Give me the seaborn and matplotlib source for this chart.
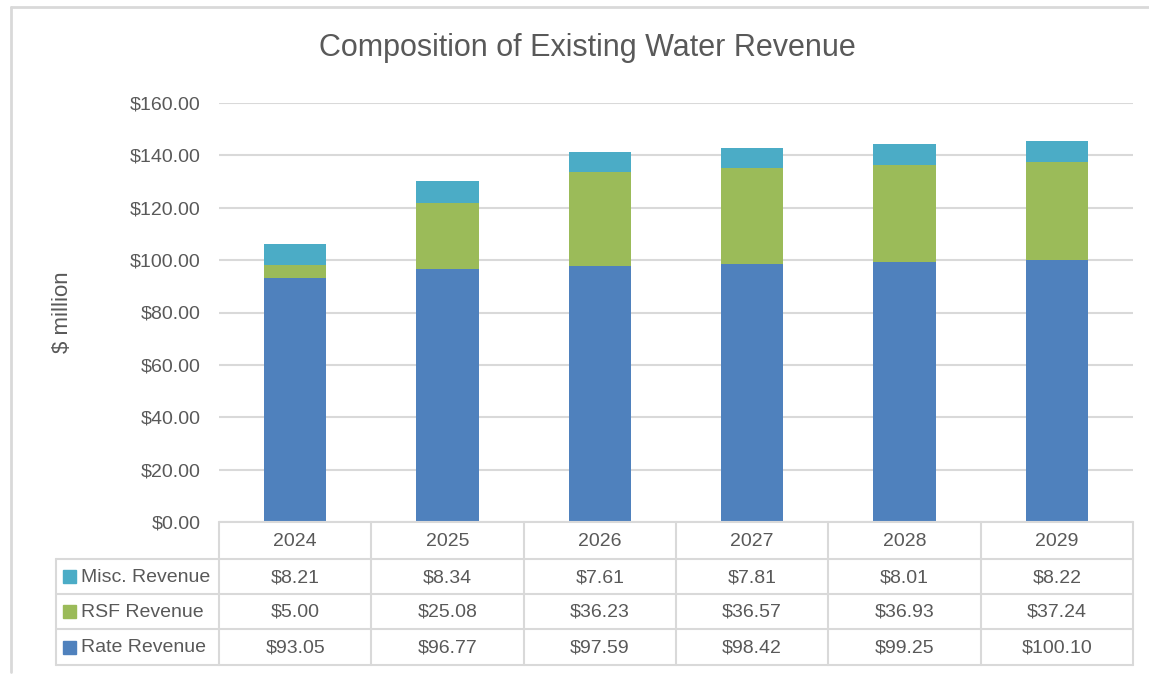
import matplotlib
matplotlib.use("Agg")
import matplotlib.pyplot as plt
import seaborn as sns
import pandas as pd
from matplotlib.patches import Rectangle
from matplotlib.lines import Line2D

# ── Data ──────────────────────────────────────────────
years = ["2024", "2025", "2026", "2027", "2028", "2029"]
rate_revenue = [93.05, 96.77, 97.59, 98.42, 99.25, 100.10]
rsf_revenue = [5.00, 25.08, 36.23, 36.57, 36.93, 37.24]
misc_revenue = [8.21, 8.34, 7.61, 7.81, 8.01, 8.22]

series_names = ["Misc. Revenue", "RSF Revenue", "Rate Revenue"]
series_colors = ["#4BACC6", "#9BBB59", "#4F81BD"]
yticks = [0, 20, 40, 60, 80, 100, 120, 140, 160]

df = pd.DataFrame({"Year": years, "Rate": rate_revenue,
                   "RSF": rsf_revenue, "Misc": misc_revenue})
df["RateRSF"] = df["Rate"] + df["RSF"]
df["Total"] = df["RateRSF"] + df["Misc"]

sns.set_style("white")
plt.rcParams["font.family"] = ["Liberation Sans Narrow", "Liberation Sans", "DejaVu Sans"]
TXT = "#595959"
GRID = "#D9D9D9"

W, H = 1149, 675
fig = plt.figure(figsize=(W / 100, H / 100), dpi=100)

# ── Bars (stacked by overdrawing cumulative totals) ───
ax = fig.add_axes([219 / W, 1 - 522 / H, (1133 - 219) / W, (522 - 103) / H])
for col, color in [("Total", series_colors[0]), ("RateRSF", series_colors[1]),
                   ("Rate", series_colors[2])]:
    sns.barplot(data=df, x="Year", y=col, color=color, width=0.41,
                saturation=1, linewidth=0, ax=ax, zorder=3)
ax.set_ylim(0, 160)
ax.set_xlim(-0.5, len(years) - 0.5)
ax.set_yticks(yticks)
ax.set_yticklabels([f"${v:.2f}" for v in yticks], fontsize=14, color=TXT)
ax.set_xticks([])
ax.set_xlabel("")
ax.set_ylabel("")
ax.tick_params(axis="y", length=0, pad=13)
ax.grid(axis="y", color=GRID, linewidth=1.5, zorder=0)
for s in ax.spines.values():
    s.set_visible(False)

fig.text(62 / W, 1 - 312 / H, "$ million", rotation=90, fontsize=16,
         color=TXT, ha="center", va="center")
fig.text(587 / W, 1 - 48 / H, "Composition of Existing Water Revenue",
         fontsize=22, color=TXT, ha="center", va="center")

# ── Data table ───────────────────────────────────────
ta = fig.add_axes([0, 0, 1, 1])
ta.set_xlim(0, W)
ta.set_ylim(H, 0)
ta.axis("off")

col_edges = [219 + i * (1133 - 219) / len(years) for i in range(len(years) + 1)]
row_edges = [522, 559, 594, 629, 665]
lw = 1.5

# header row (only above the data columns)
ta.add_line(Line2D([219, 1133], [522, 522], color=GRID, lw=lw))
for x in col_edges:
    ta.add_line(Line2D([x, x], [522, 665], color=GRID, lw=lw))
for y in row_edges[1:]:
    ta.add_line(Line2D([56, 1133], [y, y], color=GRID, lw=lw))
ta.add_line(Line2D([56, 56], [559, 665], color=GRID, lw=lw))

for i, yr in enumerate(years):
    cx = (col_edges[i] + col_edges[i + 1]) / 2
    ta.text(cx, (522 + 559) / 2 + 1, yr, fontsize=14, color=TXT,
            ha="center", va="center")

rows = [misc_revenue, rsf_revenue, rate_revenue]
for r, (name, color, vals) in enumerate(zip(series_names, series_colors, rows)):
    cy = (row_edges[r + 1] + row_edges[r + 2]) / 2
    ta.add_patch(Rectangle((63, cy - 6.5), 13, 13, color=color))
    ta.text(81, cy + 1, name, fontsize=14, color=TXT, ha="left", va="center")
    for i, v in enumerate(vals):
        cx = (col_edges[i] + col_edges[i + 1]) / 2
        ta.text(cx, cy + 1, f"${v:.2f}", fontsize=14, color=TXT,
                ha="center", va="center")

# outer chart border (top and left visible)
ta.add_line(Line2D([11, W], [7, 7], color=GRID, lw=2))
ta.add_line(Line2D([11, 11], [7, 672], color=GRID, lw=2))

fig.savefig("out.png", dpi=100)
